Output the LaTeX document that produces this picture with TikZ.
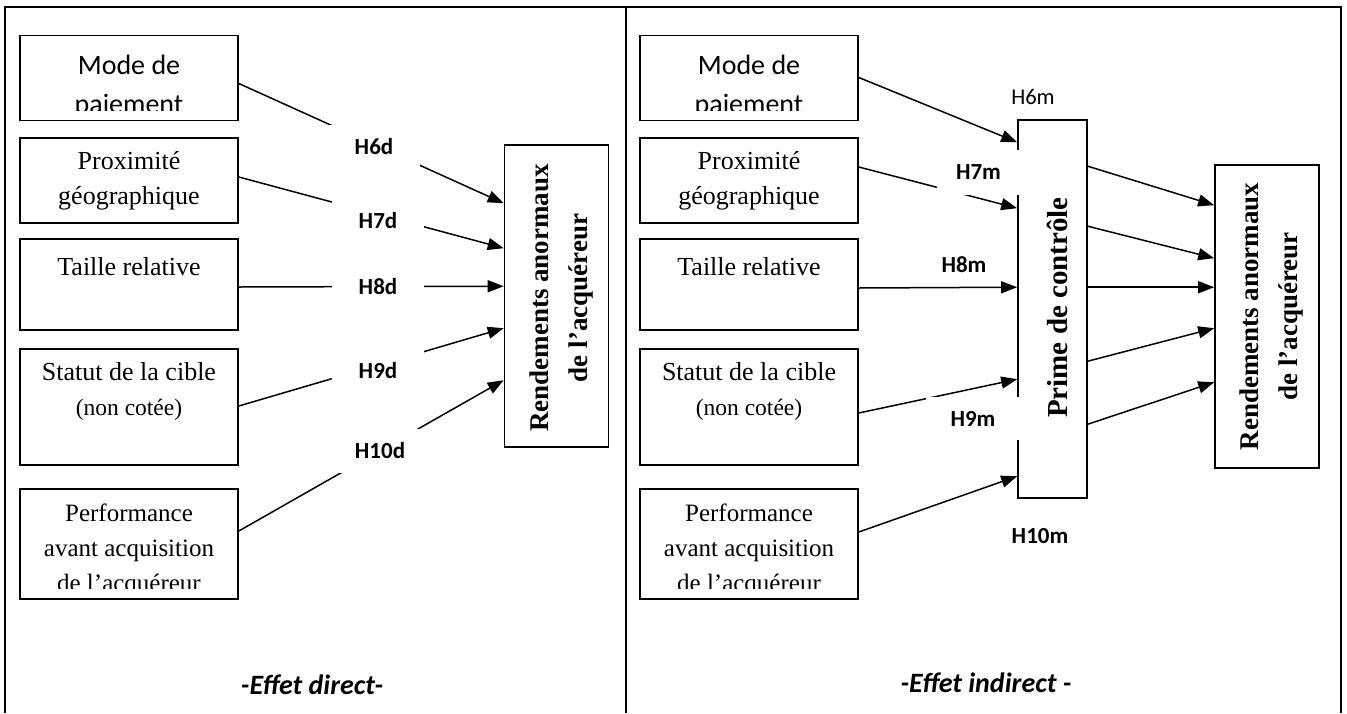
\documentclass[tikz,border=0pt]{standalone}
\usepackage{fontspec}
\setmainfont{Liberation Serif}
\newfontfamily\calibri{Carlito}
\usetikzlibrary{arrows.meta, calc}

\begin{document}
\begin{tikzpicture}[
    x=1pt, y=-1pt,
    frame/.style={line width=1.8pt},
    src/.style={draw, line width=1.6pt, minimum width=218pt, anchor=north,
                inner sep=0pt, align=center, font=\fontsize{26}{35}\selectfont},
    target/.style={draw, line width=1.6pt, inner sep=0pt},
    vtext/.style={rotate=90, align=center, inner sep=0pt,
                  font=\bfseries\fontsize{27}{39}\selectfont},
    clipped/.style n args={3}{path picture={
        \clip ([yshift=10pt]path picture bounding box.south west)
          rectangle (path picture bounding box.north east);
        \node[anchor=center, align=center, inner sep=0pt, #2] (#1)
          at (path picture bounding box.center) {#3};}},
    arrow/.style={-{Triangle[length=16pt, width=12pt]}, line width=1.5pt},
    hyp/.style={fill=white, inner sep=0pt,
                font=\calibri\bfseries\fontsize{23}{28}\selectfont},
    caption/.style={font=\calibri\bfseries\itshape\fontsize{28}{34}\selectfont}
  ]
    \useasboundingbox (0,0) rectangle (1347,713);

    % table frame
    \draw[frame] (5,713) -- (5,7) -- (1341,7) -- (1341,713);
    \draw[frame] (626,7) -- (626,713);

    % ---- direct effect
    \node[src, minimum height=85pt,
          clipped={modeDtxt}{font=\calibri\fontsize{28}{39}\selectfont, yshift=-8.6pt}{Mode de\\paiement}]
          (modeD) at (129,34.5) {};
    \node[src, minimum height=85pt] (proxD) at (129,137) {Proximité\\géographique};
    \node[src, minimum height=91pt] (tailleD) at (129,238) {Taille relative\\\mbox{}};
    \node[src, minimum height=116pt] (statutD) at (129,348)
          {Statut de la cible\\{\fontsize{23.5}{35}\selectfont (non cotée)}\\\mbox{}};
    \node[src, minimum height=110pt,
          clipped={perfDtxt}{font=\fontsize{25}{35}\selectfont, yshift=-6.2pt}{Performance\\avant acquisition\\de l’acquéreur}]
          (perfD) at (129,488) {};

    \node[target, minimum width=104pt, minimum height=302pt] (rendD) at (556.5,296) {};
    \node[vtext] (rendDtxt) at ($(rendD.center)+(5,2)$) {Rendements anormaux\\de l’acquéreur};

    \draw[arrow] ($(modeD.north east)+(0,49)$)   -- ($(rendD.north west)+(0,59)$);
    \draw[arrow] ($(proxD.north east)+(0,40)$)   -- ($(rendD.north west)+(0,104)$);
    \draw[arrow] ($(tailleD.north east)+(0,49)$) -- ($(rendD.north west)+(0,142)$);
    \draw[arrow] ($(statutD.north east)+(0,58)$) -- ($(rendD.north west)+(0,184)$);
    \draw[arrow] ($(perfD.north east)+(0,43)$)   -- ($(rendD.north west)+(0,236)$);

    \node[hyp, minimum width=92pt, minimum height=44pt] (h6d)  at (374,147) {H6d};
    \node[hyp, minimum width=92pt, minimum height=44pt] (h7d)  at (378,221) {H7d};
    \node[hyp, minimum width=92pt, minimum height=44pt] (h8d)  at (378,287) {H8d};
    \node[hyp, minimum width=92pt, minimum height=44pt] (h9d)  at (378,371) {H9d};
    \node[hyp, minimum width=92pt, minimum height=44pt] (h10d) at (380,451) {H10d};

    \node[caption] (capD) at (312,685) {-Effet direct-};

    % ---- indirect effect
    \node[src, minimum height=85pt,
          clipped={modeMtxt}{font=\calibri\fontsize{28}{39}\selectfont, yshift=-8.6pt}{Mode de\\paiement}]
          (modeM) at (749,34.5) {};
    \node[src, minimum height=85pt] (proxM) at (749,137) {Proximité\\géographique};
    \node[src, minimum height=91pt] (tailleM) at (749,238) {Taille relative\\\mbox{}};
    \node[src, minimum height=116pt] (statutM) at (749,348)
          {Statut de la cible\\{\fontsize{23.5}{35}\selectfont (non cotée)}\\\mbox{}};
    \node[src, minimum height=110pt,
          clipped={perfMtxt}{font=\fontsize{25}{35}\selectfont, yshift=-6.2pt}{Performance\\avant acquisition\\de l’acquéreur}]
          (perfM) at (749,488) {};

    \node[target, minimum width=69pt, minimum height=378pt] (prime) at (1052.5,309) {};
    \node[vtext, font=\bfseries\fontsize{29}{35}\selectfont] (primetxt)
          at ($(prime.center)+(5,-1.5)$) {Prime de contrôle};

    \node[target, minimum width=104pt, minimum height=303pt] (rendM) at (1267,316.5) {};
    \node[vtext] (rendMtxt) at ($(rendM.center)+(4,0)$) {Rendements anormaux\\de l’acquéreur};

    \draw[arrow] ($(modeM.north east)+(0,43)$)   -- ($(prime.north west)+(0,23)$);
    \draw[arrow] ($(proxM.north east)+(0,30)$)   -- ($(prime.north west)+(0,89)$);
    \draw[arrow] ($(tailleM.north east)+(0,50)$) -- ($(prime.north west)+(0,168)$);
    \draw[arrow] ($(statutM.north east)+(0,65)$) -- ($(prime.north west)+(0,260)$);
    \draw[arrow] ($(perfM.north east)+(0,44)$)   -- ($(prime.north west)+(0,357)$);

    \draw[arrow] ($(prime.north east)+(0,47)$)  -- ($(rendM.north west)+(0,41)$);
    \draw[arrow] ($(prime.north east)+(0,107)$) -- ($(rendM.north west)+(0,94)$);
    \draw[arrow] ($(prime.north east)+(0,168)$) -- ($(rendM.north west)+(0,123)$);
    \draw[arrow] ($(prime.north east)+(0,242)$) -- ($(rendM.north west)+(0,164)$);
    \draw[arrow] ($(prime.north east)+(0,305)$) -- ($(rendM.north west)+(0,218)$);

    \node[hyp, font=\calibri\fontsize{22.5}{28}\selectfont] (h6m) at (1033,97) {H6m};
    \node[hyp, minimum width=83pt, minimum height=45pt] (h7m) at (978.5,172.5) {H7m};
    \node[hyp] (h8m) at (964,265) {H8m};
    \node[hyp, minimum width=94pt, minimum height=43pt] (h9m) at (973,418.5) {H9m};
    \node[hyp] (h10m) at (1040,536) {H10m};

    \node[caption] (capI) at (986,683) {-Effet indirect -};
  \end{tikzpicture}
\end{document}
